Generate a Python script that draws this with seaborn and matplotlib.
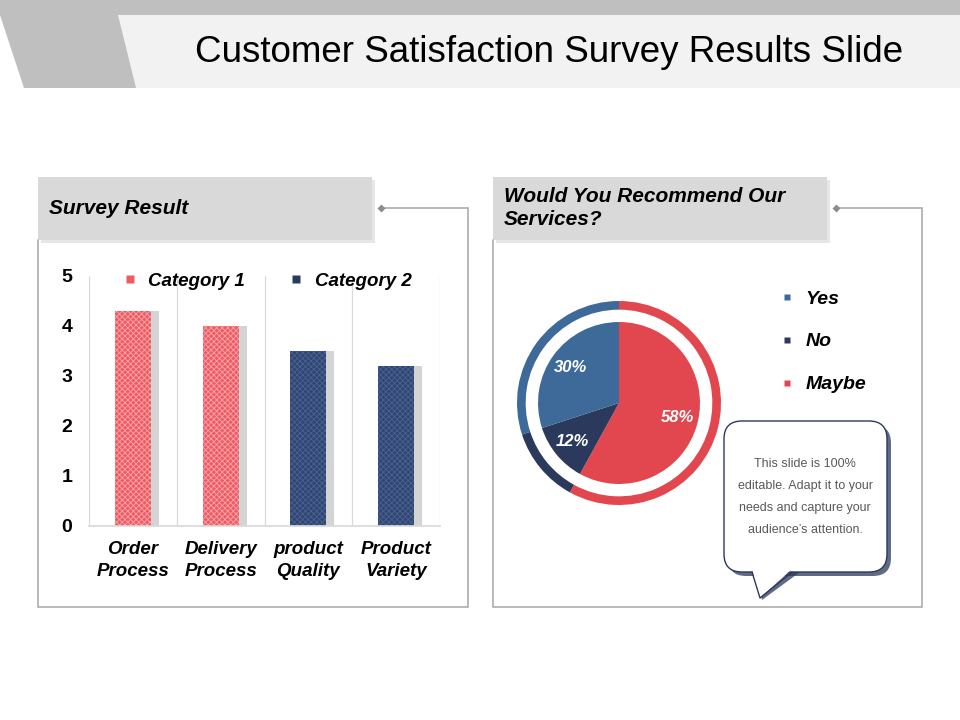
"""Customer satisfaction survey slide: bar chart of survey scores + recommend pie."""

import pandas as pd
import matplotlib
matplotlib.use("Agg")
import matplotlib.pyplot as plt
import matplotlib.patches as mpatches
from matplotlib.lines import Line2D
import seaborn as sns

# ─── Data ─────────────────────────────────────────────────────────────────────
ITEMS   = ["Order Process", "Delivery Process", "product Quality", "Product Variety"]
SCORES  = [4.3, 4.0, 3.5, 3.2]
SERIES  = ["Category 1", "Category 1", "Category 2", "Category 2"]
Y_TICKS = [0, 1, 2, 3, 4, 5]

ANSWERS = ["Maybe", "No", "Yes"]          # drawn clockwise from 12 o'clock
SHARES  = [58, 12, 30]
LEGEND_ORDER = ["Yes", "No", "Maybe"]

# ─── Colour palette ───────────────────────────────────────────────────────────
RED, NAVY, BLUE = "#e2474f", "#2b3a5c", "#3d6a98"
SERIES_COLORS = {"Category 1": "#ee5c63", "Category 2": "#2f4673"}
HATCH_COLORS  = {"Category 1": "#f7a5a9", "Category 2": "#4b6391"}
ANSWER_COLORS = {"Maybe": RED, "No": NAVY, "Yes": BLUE}
LINE_GREY = "#a6a6a6"
FONT = "Liberation Sans"

W, H = 960, 720

sns.set_theme(style="white")
plt.rcParams["font.family"] = [FONT, "DejaVu Sans"]
plt.rcParams["hatch.linewidth"] = 0.6
plt.rcParams["text.color"] = "black"


def fig_rect(x0, y0, x1, y1):
    """Pixel box (top-left origin) -> figure fraction rect."""
    return [x0 / W, (H - y1) / H, (x1 - x0) / W, (y1 - y0) / H]


fig = plt.figure(figsize=(W / 100, H / 100), dpi=100)
fig.patch.set_facecolor("white")

# background layer in pixel coordinates
bg = fig.add_axes([0, 0, 1, 1], zorder=0)
bg.set_xlim(0, W)
bg.set_ylim(H, 0)
bg.axis("off")

# ─── Title band ───────────────────────────────────────────────────────────────
bg.add_patch(mpatches.Rectangle((0, 0), W, 15, color="#bfbfbf", lw=0))
bg.add_patch(mpatches.Rectangle((118, 15), W - 118, 73, color="#f2f2f2", lw=0))
bg.add_patch(mpatches.Polygon([(0, 15), (118, 15), (136, 88), (24, 88)],
                              closed=True, color="#bfbfbf", lw=0))
bg.text(549, 52, "Customer Satisfaction Survey Results Slide", fontsize=26.5,
        ha="center", va="center", color="black")


def panel(x0, x1, hdr_x1, title, title_y):
    y_top, y_hdr0, y_hdr1, y_bot = 208, 177, 240, 607
    # frame
    bg.plot([hdr_x1 + 9, x1, x1, x0, x0], [y_top, y_top, y_bot, y_bot, y_hdr1],
            color=LINE_GREY, lw=1.1, solid_joinstyle="miter")
    bg.plot([hdr_x1 + 9], [y_top], marker="D", ms=4, color="#8c8c8c", mec="none")
    # header with soft shadow
    bg.add_patch(mpatches.Rectangle((x0 + 3, y_hdr0 + 3), hdr_x1 - x0, y_hdr1 - y_hdr0,
                                    color="#e6e6e6", lw=0))
    bg.add_patch(mpatches.Rectangle((x0, y_hdr0), hdr_x1 - x0, y_hdr1 - y_hdr0,
                                    color="#d9d9d9", lw=0))
    bg.text(x0 + 11, title_y, title, fontsize=15, fontweight="bold",
            fontstyle="italic", ha="left", va="center", color="black",
            linespacing=1.3)


panel(38, 468, 372, "Survey Result", 209)
panel(493, 922, 827, "Would You Recommend Our\nServices?", 208)

# ─── Bar chart ────────────────────────────────────────────────────────────────
df = pd.DataFrame({"item": ITEMS, "score": SCORES, "series": SERIES})

ax = fig.add_axes(fig_rect(89, 276, 440, 526), zorder=2)
ax.patch.set_alpha(0)

# grey drop-shadow bars, nudged right
sns.barplot(data=df, x="item", y="score", color="#d4d4d4", width=0.41,
            saturation=1, ax=ax)
n_shadow = len(ax.patches)
for p in ax.patches:
    p.set_x(p.get_x() + 0.09)
    p.set_linewidth(0)

sns.barplot(data=df, x="item", y="score", hue="series", dodge=False,
            palette=SERIES_COLORS, width=0.41, saturation=1, legend=False, ax=ax)
for p in ax.patches[n_shadow:]:
    if p.get_height() == 0:
        continue
    fc = matplotlib.colors.to_hex(p.get_facecolor())
    ser = "Category 1" if fc == SERIES_COLORS["Category 1"] else "Category 2"
    p.set_hatch("xxxxxx")
    p.set_edgecolor(HATCH_COLORS[ser])
    p.set_linewidth(0)

ax.set_xlim(-0.5, len(ITEMS) - 0.5)
ax.set_ylim(0, 5)
ax.set_yticks(Y_TICKS)
ax.set_yticklabels([str(t) for t in Y_TICKS], fontsize=14, fontweight="bold")
ax.set_xticks(range(len(ITEMS)))
ax.set_xticklabels([s.replace(" ", "\n") for s in ITEMS], fontsize=13.5,
                   fontweight="bold", fontstyle="italic", linespacing=1.33)
ax.tick_params(axis="y", length=0, pad=12, colors="black")
ax.tick_params(axis="x", length=0, pad=11, colors="black")
ax.set_xlabel("")
ax.set_ylabel("")
for i in range(len(ITEMS) + 1):
    ax.axvline(i - 0.5, color="#d9d9d9", lw=0.9, zorder=0)
for side in ["top", "right", "left"]:
    ax.spines[side].set_visible(False)
ax.spines["bottom"].set_color("#d9d9d9")

handles = [Line2D([], [], marker="s", ls="none", ms=6, mec="none",
                  color=SERIES_COLORS[s] if s == "Category 1" else NAVY, label=s)
           for s in ["Category 1", "Category 2"]]
ax.legend(handles=handles, loc="center left", bbox_to_anchor=(0.10, 0.98), ncol=2,
          frameon=False, handlelength=0.6, handletextpad=0.7, columnspacing=2.4,
          labelcolor="black", borderaxespad=0, borderpad=0,
          prop={"size": 13.5, "weight": "bold", "style": "italic"})

# ─── Pie / ring ───────────────────────────────────────────────────────────────
cx, cy, r_out = 619, 403, 102
pax = fig.add_axes(fig_rect(cx - r_out, cy - r_out, cx + r_out, cy + r_out), zorder=2)
pie_colors = [ANSWER_COLORS[a] for a in ANSWERS]
pax.pie(SHARES, colors=pie_colors, startangle=90, counterclock=False, radius=1,
        wedgeprops={"width": 0.085, "linewidth": 0})
_, _, autotexts = pax.pie(SHARES, colors=pie_colors, startangle=90, counterclock=False,
                          radius=0.794, autopct="%d%%", pctdistance=0.74,
                          wedgeprops={"linewidth": 0})
for t in autotexts:
    t.set_color("white")
    t.set_fontsize(12)
    t.set_fontweight("bold")
    t.set_fontstyle("italic")
pax.set_xlim(-1, 1)
pax.set_ylim(-1, 1)
pax.set_aspect("equal")
pax.axis("off")

pie_handles = [Line2D([], [], marker="s", ls="none", ms=5, mec="none",
                      color=ANSWER_COLORS[a], label=a) for a in LEGEND_ORDER]
fig.legend(handles=pie_handles, loc="upper left",
           bbox_to_anchor=(781 / W, (H - 290) / H), frameon=False,
           borderaxespad=0, borderpad=0, labelcolor="black",
           handletextpad=0.65, labelspacing=1.3, handlelength=0.6,
           prop={"size": 14, "weight": "bold", "style": "italic"})

# ─── Speech bubble ────────────────────────────────────────────────────────────
bx0, by0, bx1, by1 = 724, 421, 887, 572
sh = 4
bstyle = "round,pad=10,rounding_size=18"
bg.add_patch(mpatches.FancyBboxPatch((bx0 + 10 + sh, by0 + 10 + sh), bx1 - bx0 - 20,
                                     by1 - by0 - 20, boxstyle=bstyle,
                                     fc=NAVY, ec="none", alpha=0.75, zorder=3))
bg.add_patch(mpatches.Polygon([(755, 572), (762, 600), (800, 572)], closed=True,
                              fc=NAVY, ec="none", alpha=0.75, zorder=3))
bg.add_patch(mpatches.FancyBboxPatch((bx0 + 10, by0 + 10), bx1 - bx0 - 20, by1 - by0 - 20,
                                     boxstyle=bstyle, fc="white", ec=NAVY, lw=1, zorder=4))
bg.add_patch(mpatches.Polygon([(752, 569), (760, 598), (792, 569)], closed=True,
                              fc="white", ec="none", zorder=5))
bg.plot([752, 760, 792], [572, 598, 572], color=NAVY, lw=1, zorder=6)
bg.text(805, 497, "This slide is 100%\neditable. Adapt it to your\n"
        "needs and capture your\naudience\u2019s attention.",
        fontsize=9, color="#595959", ha="center", va="center", linespacing=2.12, zorder=7)

fig.savefig("out.png", dpi=100)
